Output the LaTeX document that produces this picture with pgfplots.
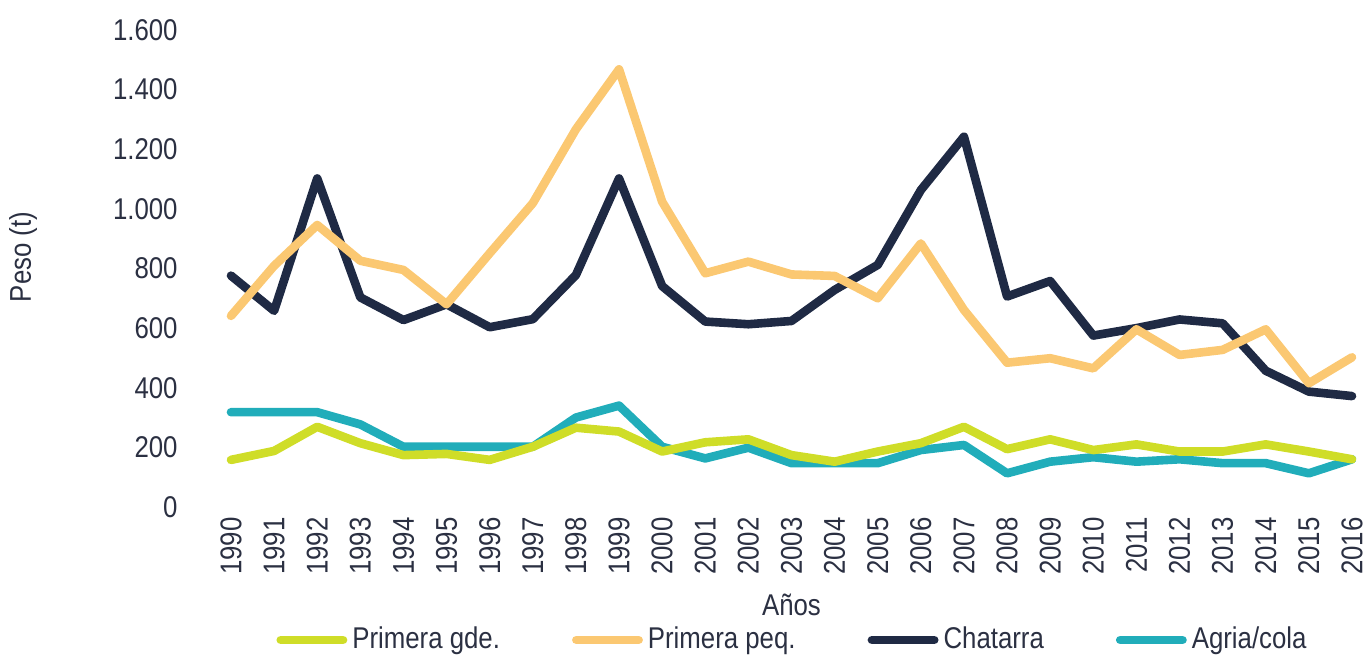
\documentclass[border=0pt]{standalone}
\usepackage{fontspec}
\setmainfont{Liberation Sans}[FakeStretch=0.86]
\usepackage{pgfplots}
\pgfplotsset{compat=1.18}
\definecolor{cgde}{HTML}{CFDD28}
\definecolor{cpeq}{HTML}{FBC872}
\definecolor{cchat}{HTML}{1F2A44}
\definecolor{cagria}{HTML}{21ADBA}
\definecolor{txt}{HTML}{2B3042}
\begin{document}
\fontsize{15}{18}\selectfont\color{txt}%
\begin{tikzpicture}
\useasboundingbox (-115.5pt,-74.5pt) rectangle (570pt,253.5pt);
\begin{axis}[
  scale only axis, width=560.5pt, height=238.5pt,
  xmin=1990, xmax=2016, ymin=0, ymax=1600,
  xtick={1990,1991,...,2016}, ytick={0,200,...,1600},
  axis line style={draw=none}, major tick length=0pt, tick style={draw=none},
  clip=false,
  /pgf/number format/assume math mode=true,
  xticklabel style={rotate=90, anchor=east, inner sep=0pt, /pgf/number format/1000 sep={}},
  xticklabel shift=5pt,
  yticklabel style={anchor=east, inner sep=0pt, /pgf/number format/1000 sep={.}},
  yticklabel shift=26.5pt,
  xlabel={Años}, ylabel={Peso (t)},
  xlabel style={at={(axis description cs:0.5,-0.2055)}, anchor=center, inner sep=0pt},
  ylabel style={at={(axis description cs:-0.1855,0.524)}, anchor=center, inner sep=0pt},
  legend columns=4, reverse legend,
  legend style={at={(axis description cs:0.5,-0.2788)}, anchor=center, draw=none, fill=none,
    inner sep=0pt, nodes={inner sep=0pt},
    /tikz/every odd column/.append style={column sep=2.5pt},
    /tikz/every even column/.append style={column sep=36pt}},
  legend cell align=left,
  legend image code/.code={\draw[line width=4.3pt, line cap=round] (2.15pt,0pt) -- (33.3pt,0pt);},
  every axis plot/.append style={line width=4.3pt, line join=round, line cap=round, mark=none},
]
\addplot[cagria] coordinates {
(1990,318) (1991,318) (1992,318) (1993,277) (1994,202) (1995,202) (1996,202) (1997,202)
(1998,300) (1999,340) (2000,202) (2001,163) (2002,199) (2003,147) (2004,147) (2005,147)
(2006,191) (2007,208) (2008,113) (2009,152) (2010,167) (2011,152) (2012,160) (2013,147)
(2014,147) (2015,113) (2016,160)};
\addlegendentry{Agria/cola}
\addplot[cchat] coordinates {
(1990,776) (1991,658) (1992,1102) (1993,703) (1994,627) (1995,680) (1996,603) (1997,630)
(1998,778) (1999,1102) (2000,741) (2001,622) (2002,613) (2003,624) (2004,728) (2005,812)
(2006,1063) (2007,1242) (2008,706) (2009,758) (2010,575) (2011,600) (2012,629) (2013,616)
(2014,457) (2015,387) (2016,372)};
\addlegendentry{Chatarra}
\addplot[cpeq] coordinates {
(1990,641) (1991,809) (1992,946) (1993,826) (1994,795) (1995,680) (1996,851) (1997,1019)
(1998,1267) (1999,1468) (2000,1024) (2001,784) (2002,823) (2003,780) (2004,775) (2005,700)
(2006,884) (2007,661) (2008,484) (2009,499) (2010,465) (2011,596) (2012,510) (2013,527)
(2014,596) (2015,415) (2016,502)};
\addlegendentry{Primera peq.}
\addplot[cgde] coordinates {
(1990,158) (1991,188) (1992,269) (1993,214) (1994,174) (1995,178) (1996,158) (1997,202)
(1998,266) (1999,253) (2000,186) (2001,217) (2002,227) (2003,174) (2004,152) (2005,186)
(2006,214) (2007,269) (2008,194) (2009,227) (2010,191) (2011,210) (2012,186) (2013,186)
(2014,210) (2015,186) (2016,160)};
\addlegendentry{Primera gde.}
\end{axis}
\end{tikzpicture}
\end{document}
